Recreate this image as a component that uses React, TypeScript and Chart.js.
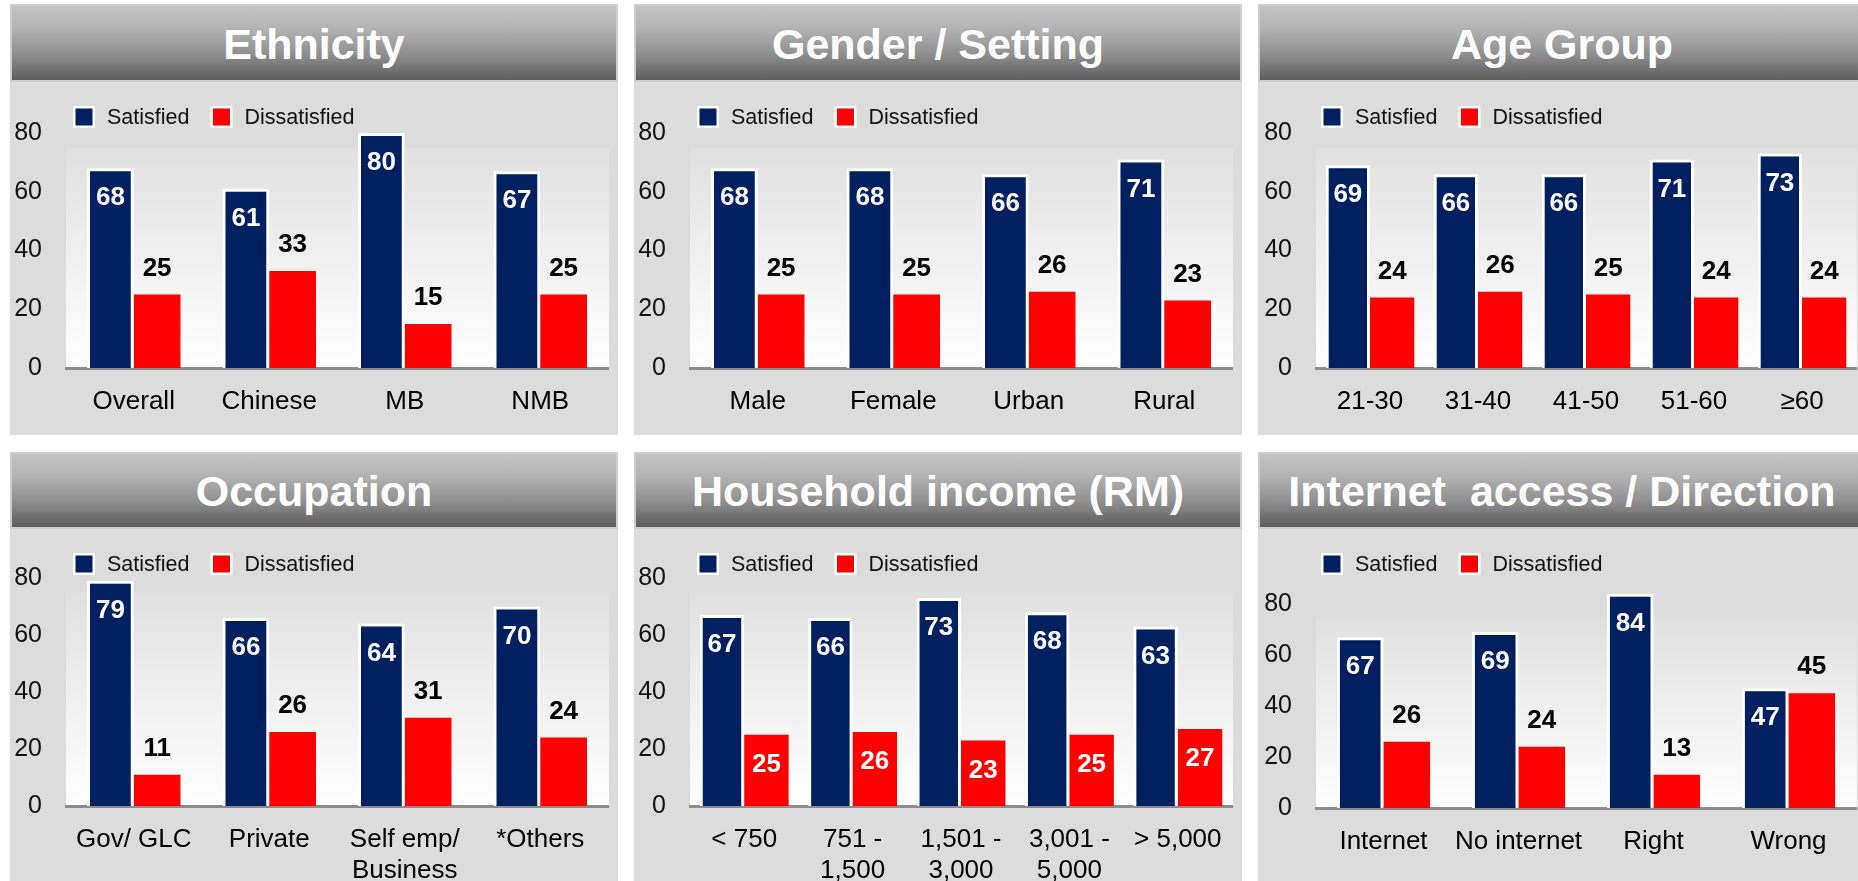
import React, { useEffect, useRef } from "react";
import { Chart, registerables } from "chart.js";

Chart.register(...registerables);

// ---------------- DATA ----------------
const seriesLabels = ["Satisfied", "Dissatisfied"];
const yTickValues = [0, 20, 40, 60, 80];

const ethnicityTitle = "Ethnicity";
const ethnicityCategories = ["Overall", "Chinese", "MB", "NMB"];
const ethnicitySatisfied = [68, 61, 80, 67];
const ethnicityDissatisfied = [25, 33, 15, 25];

const genderTitle = "Gender / Setting";
const genderCategories = ["Male", "Female", "Urban", "Rural"];
const genderSatisfied = [68, 68, 66, 71];
const genderDissatisfied = [25, 25, 26, 23];

const ageTitle = "Age Group";
const ageCategories = ["21-30", "31-40", "41-50", "51-60", "≥60"];
const ageSatisfied = [69, 66, 66, 71, 73];
const ageDissatisfied = [24, 26, 25, 24, 24];

const occupationTitle = "Occupation";
const occupationCategories: (string | string[])[] = ["Gov/ GLC", "Private", ["Self emp/", "Business"], "*Others"];
const occupationSatisfied = [79, 66, 64, 70];
const occupationDissatisfied = [11, 26, 31, 24];

const incomeTitle = "Household income (RM)";
const incomeCategories: (string | string[])[] = ["< 750", ["751 -", "1,500"], ["1,501 -", "3,000"], ["3,001 -", "5,000"], "> 5,000"];
const incomeSatisfied = [67, 66, 73, 68, 63];
const incomeDissatisfied = [25, 26, 23, 25, 27];

const internetTitle = "Internet  access / Direction";
const internetCategories = ["Internet", "No internet", "Right", "Wrong"];
const internetSatisfied = [67, 69, 84, 47];
const internetDissatisfied = [26, 24, 13, 45];

// ---------------- STYLE / LAYOUT ----------------
const FONT = "'Liberation Sans', Arial, Helvetica, sans-serif";
const NAVY = "#002060";
const RED = "#ff0000";
const BODY_BG = "#dcdcdc";
const PANEL_W = 608;

type Row = { headerTop: number; headerH: number; bodyTop: number; bodyH: number };
const ROW0: Row = { headerTop: 4, headerH: 78, bodyTop: 82, bodyH: 353 };
const ROW1: Row = { headerTop: 452, headerH: 77, bodyTop: 529, bodyH: 352 };

type Spec = {
  title: string;
  categories: (string | string[])[];
  sat: number[];
  dis: number[];
  left: number;
  row: Row;
  axisLeft: number;
  zeroY: number;
  ppu: number;
  yMax: number;
  catPct: number;
  redInside?: boolean;
};

const SPECS: Spec[] = [
  { title: ethnicityTitle, categories: ethnicityCategories, sat: ethnicitySatisfied, dis: ethnicityDissatisfied, left: 10, row: ROW0, axisLeft: 56, zeroY: 368, ppu: 2.9375, yMax: 90, catPct: 0.69 },
  { title: genderTitle, categories: genderCategories, sat: genderSatisfied, dis: genderDissatisfied, left: 634, row: ROW0, axisLeft: 56, zeroY: 368, ppu: 2.9375, yMax: 90, catPct: 0.69 },
  { title: ageTitle, categories: ageCategories, sat: ageSatisfied, dis: ageDissatisfied, left: 1258, row: ROW0, axisLeft: 58, zeroY: 368, ppu: 2.9375, yMax: 90, catPct: 0.82 },
  { title: occupationTitle, categories: occupationCategories, sat: occupationSatisfied, dis: occupationDissatisfied, left: 10, row: ROW1, axisLeft: 56, zeroY: 806, ppu: 2.85, yMax: 90, catPct: 0.69 },
  { title: incomeTitle, categories: incomeCategories, sat: incomeSatisfied, dis: incomeDissatisfied, left: 634, row: ROW1, axisLeft: 56, zeroY: 806, ppu: 2.85, yMax: 90, catPct: 0.82, redInside: true },
  { title: internetTitle, categories: internetCategories, sat: internetSatisfied, dis: internetDissatisfied, left: 1258, row: ROW1, axisLeft: 58, zeroY: 808, ppu: 2.55, yMax: 95, catPct: 0.69 },
];

function BarPanel({ spec }: { spec: Spec }) {
  const ref = useRef<HTMLCanvasElement | null>(null);
  const { row } = spec;
  const zeroRel = spec.zeroY - row.bodyTop;
  const padTop = zeroRel - spec.yMax * spec.ppu;
  const xAxisH = row.bodyH - zeroRel;

  useEffect(() => {
    const canvas = ref.current;
    if (!canvas) return;

    const plotBg = {
      id: "plotBg",
      beforeDraw(chart: any) {
        const { ctx, chartArea } = chart;
        const yTop = chart.scales.y.getPixelForValue(75);
        const g = ctx.createLinearGradient(0, yTop, 0, chartArea.bottom);
        g.addColorStop(0, "#e0e0e0");
        g.addColorStop(1, "#ffffff");
        ctx.save();
        ctx.fillStyle = g;
        ctx.fillRect(chartArea.left, yTop, chartArea.right - chartArea.left + 1, chartArea.bottom - yTop);
        ctx.restore();
      },
    };

    const valueLabels = {
      id: "valueLabels",
      afterDatasetsDraw(chart: any) {
        const { ctx } = chart;
        ctx.save();
        ctx.font = `bold 26px ${FONT}`;
        ctx.textAlign = "center";
        ctx.textBaseline = "middle";
        chart.data.datasets.forEach((ds: any, di: number) => {
          const meta = chart.getDatasetMeta(di);
          meta.data.forEach((el: any, i: number) => {
            const v = ds.data[i];
            const inside = di === 0 || spec.redInside;
            ctx.fillStyle = inside ? "#ffffff" : "#000000";
            const y = inside ? el.y + 30 : el.y - 26;
            ctx.fillText(String(v), el.x, y);
          });
        });
        ctx.restore();
      },
    };

    const boxLegend = {
      id: "boxLegend",
      afterDraw(chart: any) {
        const { ctx } = chart;
        ctx.save();
        ctx.font = `21.5px ${FONT}`;
        ctx.textBaseline = "middle";
        ctx.textAlign = "left";
        let x = 63;
        const yc = 35;
        chart.data.datasets.forEach((ds: any) => {
          ctx.fillStyle = "#ffffff";
          ctx.fillRect(x, yc - 11, 22, 22);
          ctx.fillStyle = ds.backgroundColor;
          ctx.fillRect(x + 2.5, yc - 8.5, 17, 17);
          ctx.fillStyle = "#111111";
          const tx = x + 34;
          ctx.fillText(ds.label, tx, yc + 1);
          x = tx + ctx.measureText(ds.label).width + 21;
        });
        ctx.restore();
      },
    };

    const chart = new Chart(canvas, {
      type: "bar",
      data: {
        labels: spec.categories as any,
        datasets: [
          {
            label: seriesLabels[0],
            data: spec.sat,
            backgroundColor: NAVY,
            borderColor: "#ffffff",
            borderWidth: 3,
            borderSkipped: "start",
          },
          {
            label: seriesLabels[1],
            data: spec.dis,
            backgroundColor: RED,
            borderWidth: 0,
          },
        ],
      },
      options: {
        animation: false,
        responsive: false,
        maintainAspectRatio: false,
        devicePixelRatio: 1,
        events: [],
        layout: { padding: { top: padTop, right: PANEL_W - 598, left: 0, bottom: 0 } },
        datasets: { bar: { categoryPercentage: spec.catPct, barPercentage: 1 } },
        plugins: {
          legend: { display: false },
          tooltip: { enabled: false },
          title: { display: false },
        },
        scales: {
          x: {
            z: 1,
            grid: { display: false, drawTicks: false },
            border: { display: true, color: "#8c8c8c", width: 3 },
            ticks: {
              color: "#000000",
              font: { family: FONT, size: 26, lineHeight: 1.2 },
              padding: 18,
              maxRotation: 0,
              minRotation: 0,
              autoSkip: false,
            },
            afterFit: (scale: any) => {
              scale.height = xAxisH;
              scale.paddingLeft = 0;
              scale.paddingRight = 0;
            },
          },
          y: {
            min: 0,
            max: spec.yMax,
            grid: { display: false, drawTicks: false },
            border: { display: false },
            ticks: {
              color: "#111111",
              font: { family: FONT, size: 25 },
              padding: 24,
            },
            afterBuildTicks: (scale: any) => {
              scale.ticks = yTickValues.map((v) => ({ value: v }));
            },
            afterFit: (scale: any) => {
              scale.width = spec.axisLeft;
              scale.paddingTop = 0;
              scale.paddingBottom = 0;
            },
          },
        },
      } as any,
      plugins: [plotBg, valueLabels, boxLegend],
    });
    return () => chart.destroy();
  }, []);

  return (
    <>
      <div
        style={{
          position: "absolute",
          left: spec.left,
          top: row.headerTop,
          width: PANEL_W,
          height: row.headerH,
          boxSizing: "border-box",
          border: "2px solid #cdcdcd",
          background: "linear-gradient(to bottom, #c2c2c2 0%, #b3b3b3 30%, #8f8f8f 65%, #5c5c5c 100%)",
          color: "#ffffff",
          fontFamily: FONT,
          fontWeight: "bold",
          fontSize: 43,
          lineHeight: `${row.headerH - 2}px`,
          textAlign: "center",
          whiteSpace: "pre",
          overflow: "hidden",
        }}
      >
        {spec.title}
      </div>
      <div
        style={{
          position: "absolute",
          left: spec.left,
          top: row.bodyTop,
          width: PANEL_W,
          height: row.bodyH,
          background: BODY_BG,
        }}
      >
        <canvas ref={ref} width={PANEL_W} height={row.bodyH} style={{ display: "block", width: PANEL_W, height: row.bodyH }} />
      </div>
    </>
  );
}

export default function App() {
  useEffect(() => {
    document.body.style.margin = "0";
  }, []);
  return (
    <div
      style={{
        position: "absolute",
        left: 0,
        top: 0,
        width: 1858,
        height: 881,
        overflow: "hidden",
        background: "#ffffff",
      }}
    >
      {SPECS.map((s, i) => (
        <BarPanel key={i} spec={s} />
      ))}
    </div>
  );
}
